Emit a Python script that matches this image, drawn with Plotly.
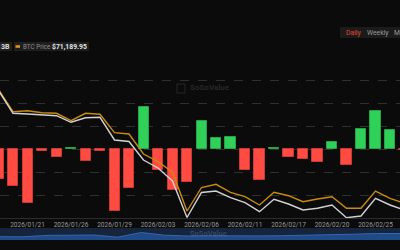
import plotly.graph_objects as go

# ---------------- data ----------------
dates = ["2026/01/16", "2026/01/20", "2026/01/21", "2026/01/22", "2026/01/23",
         "2026/01/26", "2026/01/27", "2026/01/28", "2026/01/29", "2026/01/30",
         "2026/02/02", "2026/02/03", "2026/02/04", "2026/02/05", "2026/02/06",
         "2026/02/09", "2026/02/10", "2026/02/11", "2026/02/12", "2026/02/13",
         "2026/02/17", "2026/02/18", "2026/02/19", "2026/02/20", "2026/02/23",
         "2026/02/24", "2026/02/25", "2026/02/26", "2026/02/27"]

# daily net inflow (USD millions)
net_inflow = [-323, -406, -587, -26, -87, 10, -124, -18, -678, -424,
              463, -225, -450, -359, 308, 120, 137, -225, -334, 14,
              -87, -109, -135, 72, -171, 217, 420, 210, -13]

# BTC price (USD)
btc_price = [95543, 90792, 91006, 90578, 90450, 88866, 90450, 90236, 86298, 86020,
             81740, 80092, 77824, 69542, 74571, 75256, 73544, 72602, 70826, 73544,
             72816, 71532, 72110, 72602, 70120, 70120, 73822, 72260, 71189.95]

# total net assets (USD billions)
net_assets = [118.59, 112.21, 112.01, 111.73, 111.53, 109.69, 110.97, 111.09, 104.73, 104.31,
              99.13, 96.89, 93.25, 83.03, 90.03, 90.45, 88.57, 87.17, 84.65, 88.13,
              86.81, 85.13, 85.61, 86.53, 82.97, 83.45, 88.41, 86.53, 85.13]

# navigator overview series
nav_values = [3.3, 3.2, 4.6, 5.0, 5.0, 2.8, 7.5, 4.8, 4.0, 4.2,
              4.5, 4.1, 4.3, 4.6, 5.0, 5.8, 6.5, 6.5]

tick_dates = dates[2::3]

# ---------------- styling ----------------
BG = "#0b0b0b"
GREEN = "#30d158"
GREEN_EDGE = "#26a447"
RED = "#ff4b42"
RED_EDGE = "#c93a33"
GOLD = "#c98b12"
WHITE_LINE = "#d2d2d2"
GRID = "#2f2f2f"
FONT = "Roboto"

H = 250
TOP = 60
BOT = 240
PH = BOT - TOP


def py(px):
    """convert a pixel row to paper y"""
    return (BOT - px) / PH


def pxx(px):
    return px / 400.0


bar_colors = [GREEN if v >= 0 else RED for v in net_inflow]
bar_edges = [GREEN_EDGE if v >= 0 else RED_EDGE for v in net_inflow]

fig = go.Figure()

fig.add_trace(go.Bar(
    x=dates, y=net_inflow, marker=dict(color=bar_colors, line=dict(color=bar_edges, width=1)),
    width=0.69, xaxis="x", yaxis="y", name="Daily Net Inflow", hoverinfo="skip"))

fig.add_trace(go.Scatter(
    x=dates, y=net_assets, mode="lines", line=dict(color=WHITE_LINE, width=1.4),
    xaxis="x", yaxis="y3", name="Total Net Assets", hoverinfo="skip"))

fig.add_trace(go.Scatter(
    x=dates, y=btc_price, mode="lines", line=dict(color=GOLD, width=1.4),
    xaxis="x", yaxis="y2", name="BTC Price", hoverinfo="skip"))

fig.add_trace(go.Scatter(
    x=list(range(len(nav_values))), y=nav_values, mode="lines", fill="tozeroy",
    fillcolor="#1f4a88", line=dict(color="#3566ad", width=1),
    xaxis="x2", yaxis="y4", hoverinfo="skip", showlegend=False))

main_bottom = py(218)

fig.update_layout(
    width=400, height=H,
    margin=dict(l=0, r=0, t=TOP, b=H - BOT, pad=0),
    paper_bgcolor=BG, plot_bgcolor=BG,
    showlegend=False,
    font=dict(family=FONT, color="#9a9a9a", size=7),
    bargap=0,
    xaxis=dict(type="category", range=[0.1034, 27.69], anchor="y",
               tickmode="array", tickvals=tick_dates, ticktext=tick_dates,
               tickfont=dict(size=6.5, color="#9a9a9a"), ticks="",
               showgrid=False, showline=True, linecolor="#2c2c2c", linewidth=1,
               zeroline=False),
    yaxis=dict(domain=[main_bottom, 1], range=[-750, 970], tick0=0, dtick=250,
               showticklabels=False, showgrid=True, gridcolor=GRID, griddash="dash",
               gridwidth=1, zeroline=False, showline=False),
    yaxis2=dict(domain=[main_bottom, 1], overlaying="y", range=[68044, 101856],
                showticklabels=False, showgrid=False, zeroline=False),
    yaxis3=dict(domain=[main_bottom, 1], overlaying="y", range=[82.89, 127.13],
                showticklabels=False, showgrid=False, zeroline=False),
    xaxis2=dict(anchor="y4", range=[0, len(nav_values) - 1], showticklabels=False,
                showgrid=False, zeroline=False, showline=False),
    yaxis4=dict(domain=[0, py(228)], range=[0, 12], showticklabels=False,
                showgrid=False, zeroline=False),
)

shapes = []
annotations = []

# navigator background band
shapes.append(dict(type="rect", xref="paper", yref="paper", x0=0, x1=1,
                   y0=0, y1=py(228), fillcolor="#17253c", line=dict(width=0), layer="below"))

# legend boxes
shapes.append(dict(type="rect", xref="paper", yref="paper", x0=-0.05, x1=pxx(12),
                   y0=py(51), y1=py(42), fillcolor="#1e1e1e", line=dict(width=0)))
shapes.append(dict(type="rect", xref="paper", yref="paper", x0=pxx(14), x1=pxx(89),
                   y0=py(51), y1=py(42), fillcolor="#1e1e1e", line=dict(width=0)))
shapes.append(dict(type="line", xref="paper", yref="paper", x0=pxx(15.5), x1=pxx(20),
                   y0=py(46.5), y1=py(46.5), line=dict(color="#e09a1a", width=2.5)))
annotations.append(dict(xref="paper", yref="paper", x=pxx(11.5), y=py(46.5), xanchor="right",
                        yanchor="middle", showarrow=False, text="<b>$85.13B</b>",
                        font=dict(size=7, color="#dddddd", family=FONT)))
annotations.append(dict(xref="paper", yref="paper", x=pxx(21), y=py(46.5), xanchor="left",
                        yanchor="middle", showarrow=False, text="BTC Price",
                        font=dict(size=6.3, color="#8c8c8c", family=FONT)))
annotations.append(dict(xref="paper", yref="paper", x=pxx(50), y=py(46.5), xanchor="left",
                        yanchor="middle", showarrow=False, text="<b>$71,189.95</b>",
                        font=dict(size=6.8, color="#e6e6e6", family=FONT)))

# period buttons
shapes.append(dict(type="rect", xref="paper", yref="paper", x0=pxx(340), x1=1.05,
                   y0=py(38), y1=py(27), fillcolor="#1b1b1b", line=dict(width=0)))
for label, xpos, col in [("Daily", 344, "#e5452f"), ("Weekly", 365, "#9a9a9a"),
                         ("Monthly", 391.5, "#9a9a9a")]:
    annotations.append(dict(xref="paper", yref="paper", x=pxx(xpos), y=py(32.5),
                            xanchor="left", yanchor="middle", showarrow=False, text=label,
                            font=dict(size=6.8, color=col, family=FONT)))

# watermarks
shapes.append(dict(type="rect", xref="paper", yref="paper", x0=pxx(177), x1=pxx(185),
                   y0=py(93), y1=py(84), line=dict(color="#262626", width=1),
                   fillcolor="rgba(0,0,0,0)"))
annotations.append(dict(xref="paper", yref="paper", x=pxx(188), y=py(87.5), xanchor="left",
                        yanchor="middle", showarrow=False, text="<b>SoSoValue</b>",
                        font=dict(size=8, color="#272727", family=FONT)))
annotations.append(dict(xref="paper", yref="paper", x=pxx(188), y=py(233.5), xanchor="left",
                        yanchor="middle", showarrow=False, text="<b>SoSoValue</b>",
                        font=dict(size=7.5, color="rgba(200,210,230,0.2)", family=FONT)))

fig.update_layout(shapes=shapes, annotations=annotations)

fig.write_html("out.html")
